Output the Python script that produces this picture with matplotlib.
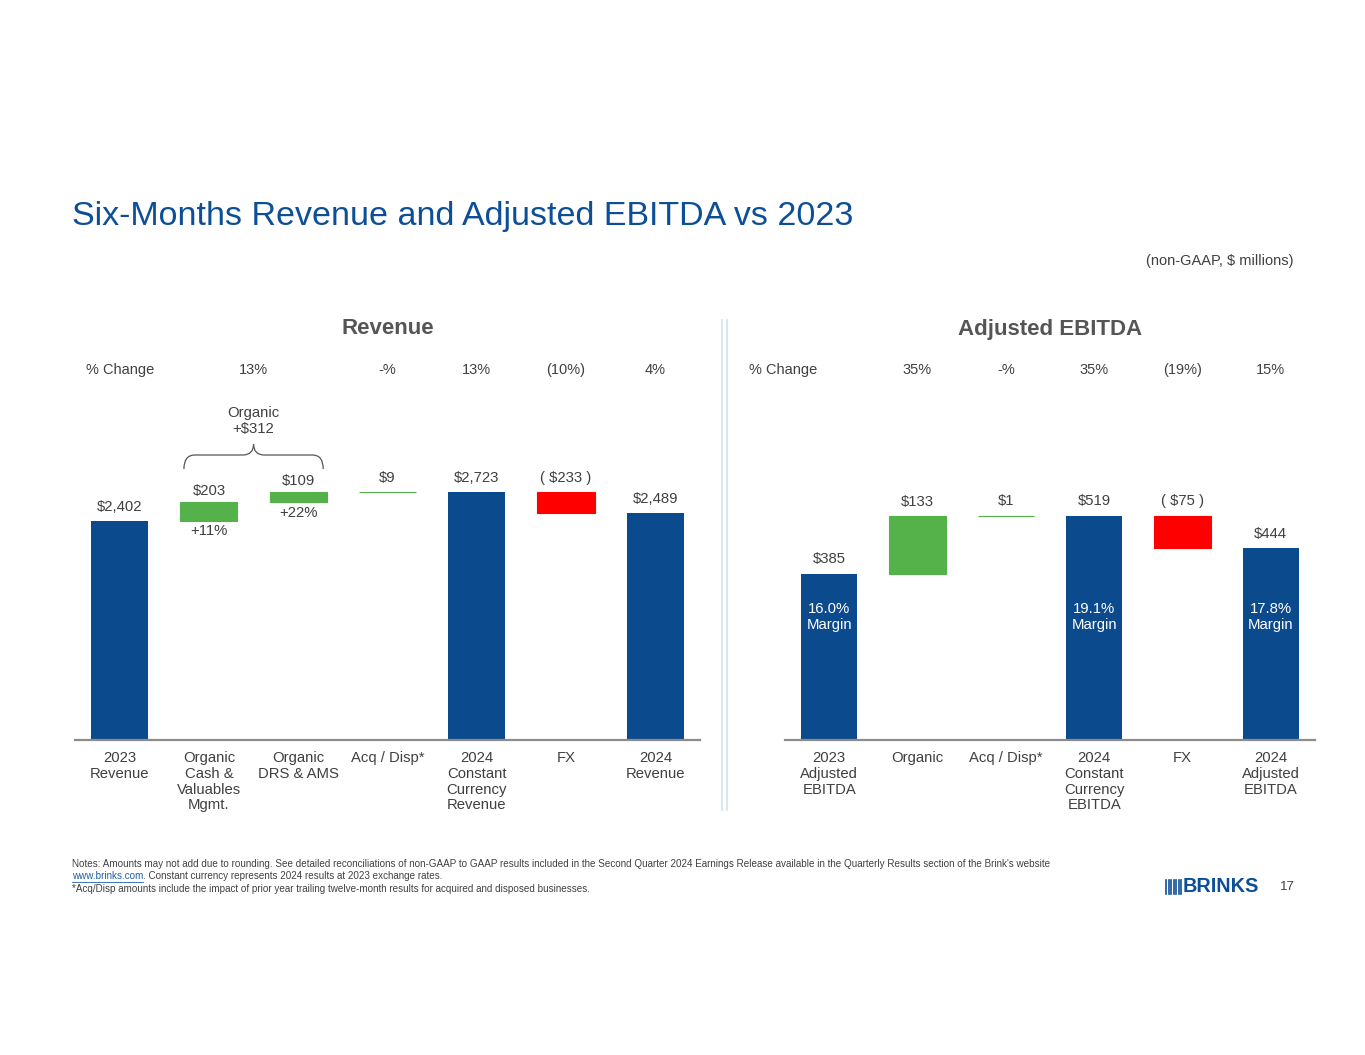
import numpy as np
import matplotlib.pyplot as plt
import matplotlib.transforms as mtransforms
from matplotlib.path import Path
from matplotlib.patches import PathPatch
from matplotlib.lines import Line2D

plt.rcParams['font.family'] = ['Liberation Sans', 'DejaVu Sans']

W, H = 1365, 1055
BLUE = "#0c4a8e"
GREEN = "#55b14a"
RED = "#ff0000"
TXT = "#404040"
TITLE = "#0d4f96"

# ---- data ----
rev_cats = ["2023\nRevenue", "Organic\nCash &\nValuables\nMgmt.", "Organic\nDRS & AMS",
            "Acq / Disp*", "2024\nConstant\nCurrency\nRevenue", "FX", "2024\nRevenue"]
rev_values = [2402, 203, 109, 9, 2723, -233, 2489]
rev_is_total = [True, False, False, False, True, False, True]
rev_labels = ["$2,402", "$203", "$109", "$9", "$2,723", "( $233 )", "$2,489"]
rev_sub = [None, "+11%", "+22%", None, None, None, None]
rev_pct_pos = [0, 1.5, 3, 4, 5, 6]
rev_pct = ["% Change", "13%", "-%", "13%", "(10%)", "4%"]

ebitda_cats = ["2023\nAdjusted\nEBITDA", "Organic", "Acq / Disp*",
               "2024\nConstant\nCurrency\nEBITDA", "FX", "2024\nAdjusted\nEBITDA"]
ebitda_values = [385, 133, 1, 519, -75, 444]
ebitda_is_total = [True, False, False, True, False, True]
ebitda_labels = ["$385", "$133", "$1", "$519", "( $75 )", "$444"]
ebitda_margin = ["16.0%\nMargin", None, None, "19.1%\nMargin", None, "17.8%\nMargin"]
ebitda_pct_pos = [-0.52, 1, 2, 3, 4, 5]
ebitda_pct = ["% Change", "35%", "-%", "35%", "(19%)", "15%"]


def fy(y):
    return 1 - y / H


def fx(x):
    return x / W


def waterfall(ax, values, is_total):
    bottoms, heights, colors = [], [], []
    run = 0
    for v, tot in zip(values, is_total):
        if tot:
            bottoms.append(0)
            heights.append(v)
            colors.append(BLUE)
            run = v
        else:
            bottoms.append(run if v >= 0 else run + v)
            heights.append(abs(v))
            colors.append(GREEN if v >= 0 else RED)
            run += v
    x = np.arange(len(values))
    edges = [c if c != BLUE else "none" for c in colors]
    ax.bar(x, heights, bottom=bottoms, width=0.64, color=colors,
           edgecolor=edges, linewidth=0.8)
    return np.array(bottoms) + np.array(heights), np.array(bottoms)


def setup_axes(rect, n, ymax):
    ax = fig.add_axes(rect)
    ax.set_xlim(-0.5, n - 0.5)
    ax.set_ylim(0, ymax)
    ax.patch.set_alpha(0)
    for s in ["top", "left", "right"]:
        ax.spines[s].set_visible(False)
    ax.spines["bottom"].set_color("#8c8c8c")
    ax.spines["bottom"].set_linewidth(1.6)
    ax.set_xticks([])
    ax.set_yticks([])
    return ax


fig = plt.figure(figsize=(W / 100, H / 100), dpi=100, facecolor="white")

# title
fig.text(fx(72), fy(217), "Six-Months Revenue and Adjusted EBITDA vs 2023",
         fontsize=24.5, color=TITLE, ha="left", va="center")
fig.text(fx(1294), fy(261), "(non-GAAP, $ millions)", fontsize=10.5,
         color=TXT, ha="right", va="center")

# ---- revenue ----
ax1 = setup_axes([fx(75), fy(740), fx(625), 440 / H], len(rev_values), 440 / 0.0912)
tops, bots = waterfall(ax1, rev_values, rev_is_total)
tr1 = mtransforms.blended_transform_factory(ax1.transData, fig.transFigure)
for i, lab in enumerate(rev_labels):
    off = 10 if rev_is_total[i] or rev_values[i] < 0 or i == 3 else 8.5
    ax1.annotate(lab, (i, tops[i]), xytext=(0, off), textcoords="offset points",
                 ha="center", va="center", fontsize=10.7, color=TXT)
    if rev_sub[i]:
        ax1.annotate(rev_sub[i], (i, bots[i]), xytext=(0, -7.5), textcoords="offset points",
                     ha="center", va="center", fontsize=10.7, color=TXT)
for i, c in enumerate(rev_cats):
    ax1.text(i, fy(751), c, transform=tr1, ha="center", va="top",
             fontsize=10.7, color=TXT, linespacing=1.16)
for p, t in zip(rev_pct_pos, rev_pct):
    ax1.text(p, fy(370), t, transform=tr1, ha="center", va="center",
             fontsize=10.5, color=TXT)
ax1.text(3, fy(329), "Revenue", transform=tr1, ha="center", va="center",
         fontsize=16, fontweight="bold", color="#555555")

# organic brace over the two organic bars
bx0, bx1, bm = 0.72, 2.28, 1.5
yb, yh, yp = fy(469), fy(455), fy(444)
verts = [(bx0, yb), (bx0, yh), (bx0 + 0.12, yh),
         (bm - 0.12, yh), (bm, yh), (bm, yp),
         (bm, yh), (bm + 0.12, yh),
         (bx1 - 0.12, yh), (bx1, yh), (bx1, yb)]
codes = [Path.MOVETO, Path.CURVE3, Path.CURVE3,
         Path.LINETO, Path.CURVE3, Path.CURVE3,
         Path.CURVE3, Path.CURVE3,
         Path.LINETO, Path.CURVE3, Path.CURVE3]
ax1.add_patch(PathPatch(Path(verts, codes), transform=tr1, fill=False,
                        edgecolor="#555555", linewidth=0.9, clip_on=False))
ax1.text(bm, fy(421), "Organic\n+$312", transform=tr1, ha="center", va="center",
         fontsize=10.7, color=TXT, linespacing=1.15)

# ---- EBITDA ----
ax2 = setup_axes([fx(785), fy(740), fx(530), 440 / H], len(ebitda_values), 440 / 0.4316)
tops2, bots2 = waterfall(ax2, ebitda_values, ebitda_is_total)
tr2 = mtransforms.blended_transform_factory(ax2.transData, fig.transFigure)
for i, lab in enumerate(ebitda_labels):
    ax2.annotate(lab, (i, tops2[i]), xytext=(0, 10.5), textcoords="offset points",
                 ha="center", va="center", fontsize=10.7, color=TXT)
    if ebitda_margin[i]:
        ax2.text(i, fy(617), ebitda_margin[i], transform=tr2, ha="center",
                 va="center", fontsize=10.7, color="white", linespacing=1.15)
for i, c in enumerate(ebitda_cats):
    ax2.text(i, fy(751), c, transform=tr2, ha="center", va="top",
             fontsize=10.7, color=TXT, linespacing=1.16)
for p, t in zip(ebitda_pct_pos, ebitda_pct):
    ax2.text(p, fy(370), t, transform=tr2, ha="center", va="center",
             fontsize=10.5, color=TXT)
ax2.text(2.5, fy(329), "Adjusted EBITDA", transform=tr2, ha="center", va="center",
         fontsize=16, fontweight="bold", color="#555555")

# divider
for xd in (722, 727):
    fig.add_artist(Line2D([fx(xd), fx(xd)], [fy(320), fy(810)], color="#d5e5f0",
                          linewidth=1.3))

# notes
fs = 7.1
fig.text(fx(72), fy(864), "Notes: Amounts may not add due to rounding. See detailed reconciliations "
         "of non-GAAP to GAAP results included in the Second Quarter 2024 Earnings Release available "
         "in the Quarterly Results section of the Brink's website",
         fontsize=fs, color=TXT, ha="left", va="center")
link = fig.text(fx(72), fy(876), "www.brinks.com", fontsize=fs, color="#1f5fa8",
                ha="left", va="center")
renderer = fig.canvas.get_renderer()
bb = link.get_window_extent(renderer)
fig.add_artist(Line2D([bb.x0 / W, bb.x1 / W], [(bb.y0 - 0.5) / H, (bb.y0 - 0.5) / H],
                      color="#1f5fa8", linewidth=0.6))
fig.text(bb.x1 / W, fy(876), ". Constant currency represents 2024 results at 2023 exchange rates.",
         fontsize=fs, color=TXT, ha="left", va="center")
fig.text(fx(72), fy(889), "*Acq/Disp amounts include the impact of prior year trailing twelve-month "
         "results for acquired and disposed businesses.",
         fontsize=fs, color=TXT, ha="left", va="center")

# logo + page number
for xl in np.arange(1166, 1183, 2.5):
    fig.add_artist(Line2D([fx(xl), fx(xl)], [fy(880), fy(894)], color=TITLE, linewidth=1.2))
fig.text(fx(1183), fy(887), "BRINKS", fontsize=14.3, fontweight="bold", color=TITLE,
         ha="left", va="center")
fig.text(fx(1287), fy(887), "17", fontsize=9.5, color=TXT, ha="center", va="center")

fig.savefig("out.png", dpi=100, facecolor="white")
